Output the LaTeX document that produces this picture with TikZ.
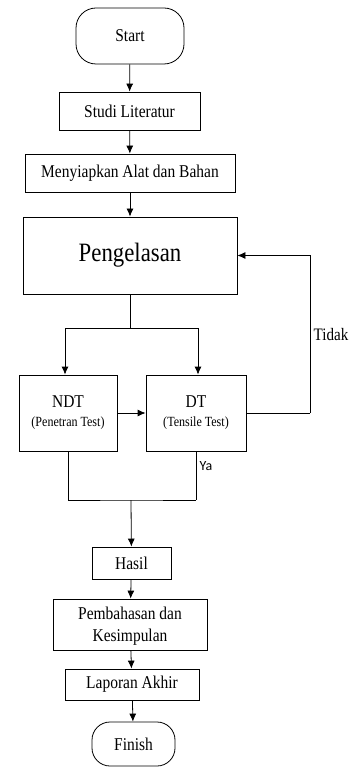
\documentclass[tikz,border=0pt]{standalone}
\usepackage{fontspec}
\newfontfamily\tnr{Liberation Serif}[FakeStretch=0.86]
\newfontfamily\yafont{Carlito}
\usetikzlibrary{arrows.meta}

\begin{document}
\begin{tikzpicture}[x=1pt,y=-1pt,line width=0.8pt,
    font=\tnr\fontsize{18}{22}\selectfont,
    >={Latex[length=8pt,width=7pt]},
    box/.style={draw,rectangle,inner sep=2pt},
    term/.style={draw,rectangle,rounded corners=20pt,inner sep=2pt}]
            \useasboundingbox (0,0) rectangle (351,767);
            \node[term,minimum width=108pt,minimum height=56pt] (start) at (130,36) {Start};
            \node[box,minimum width=141pt,minimum height=38pt] (studi) at (129.5,111) {Studi Literatur};
            \node[box,minimum width=210pt,minimum height=38pt] (siap) at (130,173) {Menyiapkan Alat dan Bahan};
            \node[box,minimum width=214pt,minimum height=77pt,font=\tnr\fontsize{26.5}{30}\selectfont] (las) at (130,255.5) {Pengelasan};
            \node[box,minimum width=98pt,minimum height=76pt,align=center] (ndt) at (68,413) {NDT\\[-3pt]{\fontsize{14}{16}\selectfont (Penetran Test)}};
            \node[box,minimum width=100pt,minimum height=76pt,align=center] (dt) at (196,413) {DT\\[-3pt]{\fontsize{14}{16}\selectfont (Tensile Test)}};
            \node[box,minimum width=79pt,minimum height=32pt] (hasil) at (131.5,563) {Hasil};
            \node[box,minimum width=154pt,minimum height=51pt,align=center,text depth=-2pt] (bahas) at (130,624.5) {Pembahasan dan\\Kesimpulan};
            \node[box,minimum width=134pt,minimum height=31pt] (lapor) at (132,684.5) {Laporan Akhir};
            \node[term,minimum width=83pt,minimum height=44pt,rounded corners=18pt] (finish) at (133.5,744) {Finish};
            \coordinate (split) at (130,328);
            \coordinate (back) at (310,413);
            \coordinate (join) at (131,500);
            \draw[->] (start) -- (studi);
            \draw[->] (studi) -- (siap);
            \draw[->] (siap) -- (las);
            \draw (las) -- (split);
            \draw[->] (split) -| ([xshift=-3pt]ndt.north);
            \draw[->] (split) -| ([xshift=2pt]dt.north);
            \draw[->] (ndt) -- (dt);
            \draw (dt.east) -- (back);
            \draw[->] (back) -- node[right,font=\tnr\fontsize{17.5}{20}\selectfont] {Tidak} (back |- las.east) -- (las.east);
            \draw (dt.south) -- node[right,pos=0.3,font=\yafont\fontsize{14}{16}\selectfont] {Ya} (dt.south |- join);
            \draw (ndt.south) |- (join) -- (dt.south |- join);
            \draw[->] (join) -- (hasil);
            \draw[->] (hasil) -- (bahas);
            \draw[->] (bahas) -- (lapor);
            \draw[->] (lapor) -- (finish);
        \end{tikzpicture}
\end{document}
